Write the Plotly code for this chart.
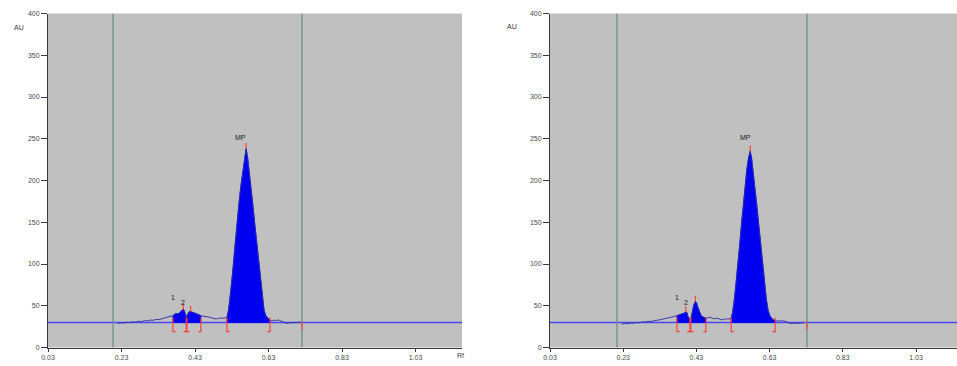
import plotly.graph_objects as go

# ---------------- data ----------------
# Densitogram traces (Rf, AU) for the two tracks
left_rf = [0.220, 0.228, 0.236, 0.244, 0.252, 0.260, 0.268, 0.276, 0.284, 0.292,
           0.300, 0.308, 0.316, 0.324, 0.332, 0.340, 0.348, 0.356, 0.364, 0.370,
           0.374, 0.378, 0.382, 0.386, 0.390, 0.394, 0.398, 0.401, 0.404, 0.406,
           0.408, 0.411, 0.414, 0.418, 0.422, 0.426, 0.430, 0.434, 0.438, 0.442,
           0.446, 0.452, 0.458, 0.464, 0.470, 0.476, 0.482, 0.488, 0.494, 0.500,
           0.506, 0.512, 0.517, 0.521, 0.525, 0.530, 0.535, 0.540, 0.545, 0.550,
           0.555, 0.560, 0.565, 0.569, 0.573, 0.578, 0.583, 0.588, 0.593, 0.598,
           0.603, 0.608, 0.613, 0.618, 0.623, 0.628, 0.634, 0.640, 0.646, 0.652,
           0.658, 0.664, 0.670, 0.676, 0.682, 0.688, 0.694, 0.700, 0.706, 0.712,
           0.718]
left_au = [29.0, 29.6, 29.2, 30.2, 29.8, 30.8, 30.4, 31.4, 31.0, 32.2,
           31.8, 32.8, 32.6, 33.6, 33.4, 34.8, 35.4, 36.6, 37.4, 38.0,
           39.6, 40.8, 40.2, 40.8, 42.4, 44.6, 45.8, 44.0, 38.5, 36.0,
           38.0, 41.5, 42.8, 43.0, 42.4, 42.0, 41.6, 41.0, 40.0, 39.0,
           38.0, 37.6, 37.0, 37.4, 36.2, 35.4, 34.6, 34.2, 34.8, 35.4,
           34.8, 35.6, 36.0, 44.0, 58.0, 78.0, 102.0, 128.0, 154.0, 174.0,
           194.0, 212.0, 228.0, 238.0, 228.0, 210.0, 190.0, 168.0, 146.0, 124.0,
           102.0, 80.0, 60.0, 44.0, 38.0, 35.0, 32.5, 32.0, 32.8, 32.2,
           33.0, 31.6, 30.4, 29.4, 29.0, 29.8, 29.2, 30.2, 29.6, 30.4,
           30.0]

right_rf = [0.226, 0.234, 0.242, 0.250, 0.258, 0.266, 0.274, 0.282, 0.290, 0.298,
            0.306, 0.314, 0.322, 0.330, 0.338, 0.346, 0.354, 0.362, 0.370, 0.377,
            0.381, 0.385, 0.389, 0.393, 0.397, 0.401, 0.404, 0.407, 0.412, 0.415,
            0.419, 0.423, 0.427, 0.430, 0.434, 0.438, 0.442, 0.446, 0.450, 0.456,
            0.462, 0.468, 0.474, 0.480, 0.486, 0.492, 0.498, 0.504, 0.510, 0.516,
            0.521, 0.525, 0.529, 0.533, 0.538, 0.543, 0.548, 0.553, 0.558, 0.563,
            0.568, 0.573, 0.577, 0.581, 0.586, 0.591, 0.596, 0.601, 0.606, 0.611,
            0.616, 0.621, 0.626, 0.631, 0.637, 0.645, 0.651, 0.657, 0.663, 0.669,
            0.675, 0.681, 0.687, 0.693, 0.699, 0.705, 0.711, 0.717, 0.723]
right_au = [28.0, 28.8, 28.4, 29.4, 29.0, 30.0, 29.6, 30.6, 30.4, 31.4,
            31.2, 32.2, 32.6, 33.2, 33.8, 34.6, 35.6, 36.4, 37.2, 38.0,
            38.6, 39.2, 39.6, 40.4, 41.2, 42.4, 41.8, 37.0, 33.0, 34.0,
            44.0, 51.0, 55.0, 54.0, 48.0, 43.0, 39.0, 37.0, 36.0, 35.0,
            35.6, 36.2, 35.0, 34.4, 35.2, 34.0, 33.2, 33.6, 34.4, 33.8,
            34.6, 35.0, 42.0, 54.0, 74.0, 98.0, 122.0, 148.0, 172.0, 194.0,
            214.0, 228.0, 235.0, 226.0, 208.0, 188.0, 166.0, 144.0, 122.0, 100.0,
            78.0, 58.0, 44.0, 38.0, 34.0, 32.0, 31.4, 32.2, 31.6, 32.0,
            30.6, 29.4, 28.6, 29.2, 28.6, 29.4, 28.8, 29.6, 29.2]

# Integrated peak windows (start / end Rf)
left_peak_start = [0.370, 0.408, 0.517]
left_peak_end = [0.406, 0.446, 0.634]
right_peak_start = [0.377, 0.415, 0.525]
right_peak_end = [0.412, 0.456, 0.645]

# Peak maxima
left_apex_rf = [0.398, 0.418, 0.569]
left_apex_au = [45.8, 43.0, 238.0]
right_apex_rf = [0.401, 0.427, 0.577]
right_apex_au = [42.4, 55.0, 235.0]

# Peak labels
peak_names = ["1", "2", "MP"]
left_label_rf = [0.370, 0.397, 0.555]
right_label_rf = [0.377, 0.402, 0.563]
label_au = [60, 54, 252]

# Application line and solvent front
left_marks = [0.207, 0.721]
right_marks = [0.213, 0.732]

baseline_au = 30.0
x_ticks = [0.03, 0.23, 0.43, 0.63, 0.83, 1.03]
y_ticks = [0, 50, 100, 150, 200, 250, 300, 350, 400]

# ---------------- figure ----------------
BLUE_FILL = "#0000f0"
TRACE = "#2a2aa8"
BASE = "#4848f0"
RED = "#ff3a2a"
MARK = "#6f8c8c"

fig = go.Figure()


def add_track(rf, au, starts, ends, apex_rf, apex_au, marks, xref, yref, xmax):
    # baseline across the whole track
    fig.add_trace(go.Scatter(x=[0.03, xmax], y=[baseline_au, baseline_au],
                             mode="lines", line=dict(color=BASE, width=1.5),
                             xaxis=xref, yaxis=yref, hoverinfo="skip"))
    # application line / solvent front
    for m in marks:
        fig.add_trace(go.Scatter(x=[m, m], y=[0, 400], mode="lines",
                                 line=dict(color=MARK, width=1.3),
                                 xaxis=xref, yaxis=yref, hoverinfo="skip"))
    # filled peak areas
    for s, e in zip(starts, ends):
        px = [x for x in rf if s <= x <= e]
        py = [y for x, y in zip(rf, au) if s <= x <= e]
        poly_x = px + [px[-1], px[0], px[0]]
        poly_y = py + [baseline_au, baseline_au, py[0]]
        fig.add_trace(go.Scatter(x=poly_x, y=poly_y, mode="lines",
                                 fill="toself", fillcolor=BLUE_FILL,
                                 line=dict(color=BLUE_FILL, width=0.8),
                                 xaxis=xref, yaxis=yref, hoverinfo="skip"))
    # scanned signal
    fig.add_trace(go.Scatter(x=rf, y=au, mode="lines",
                             line=dict(color=TRACE, width=0.9),
                             xaxis=xref, yaxis=yref, hoverinfo="skip"))
    # integration brackets
    bx, by = [], []
    foot = 0.007
    for s in starts:
        bx += [s + foot, s, s, None]
        by += [19, 19, 36, None]
    for e in ends:
        bx += [e - foot, e, e, None]
        by += [19, 19, 36, None]
    # solvent front marker
    bx += [marks[1], marks[1], None]
    by += [22, 31, None]
    # apex ticks
    for a, h in zip(apex_rf, apex_au):
        bx += [a, a, None]
        by += [h, h + 7, None]
    fig.add_trace(go.Scatter(x=bx, y=by, mode="lines",
                             line=dict(color=RED, width=1.1),
                             xaxis=xref, yaxis=yref, hoverinfo="skip"))


L_MAX = 1.1565
R_MAX = 1.142
add_track(left_rf, left_au, left_peak_start, left_peak_end,
          left_apex_rf, left_apex_au, left_marks, "x", "y", L_MAX)
add_track(right_rf, right_au, right_peak_start, right_peak_end,
          right_apex_rf, right_apex_au, right_marks, "x2", "y2", R_MAX)

tick_font = dict(family="Liberation Sans, Arial, sans-serif", size=7, color="#4a4a4a")
ax_common = dict(showgrid=False, zeroline=False, showline=True, linecolor="#3a3a3a",
                 linewidth=1, ticks="outside", tickcolor="#3a3a3a", tickfont=tick_font,
                 automargin=False)

y_dom = [18.5 / 366, 352.5 / 366]
fig.update_layout(
    width=957, height=366,
    margin=dict(l=0, r=0, t=0, b=0, pad=0, autoexpand=False),
    paper_bgcolor="white",
    plot_bgcolor="#c0c0c0",
    showlegend=False,
    xaxis=dict(domain=[48 / 957, 462 / 957], range=[0.03, L_MAX], anchor="y",
               tickvals=x_ticks, ticktext=[f"{v:.2f}" for v in x_ticks],
               ticklen=3, **ax_common),
    yaxis=dict(domain=y_dom, range=[0, 400], anchor="x", tickvals=y_ticks,
               ticklen=6, **ax_common),
    xaxis2=dict(domain=[550 / 957, 1.0], range=[0.03, R_MAX], anchor="y2",
                tickvals=x_ticks, ticktext=[f"{v:.2f}" for v in x_ticks],
                ticklen=3, **ax_common),
    yaxis2=dict(domain=y_dom, range=[0, 400], anchor="x2", tickvals=y_ticks,
                ticklen=6, **ax_common),
)

label_font = dict(family="Liberation Sans, Arial, sans-serif", size=7, color="#202020")
for name, lx, rx, h in zip(peak_names, left_label_rf, right_label_rf, label_au):
    fig.add_annotation(x=lx, y=h, xref="x", yref="y", text=name, showarrow=False,
                       font=label_font)
    fig.add_annotation(x=rx, y=h, xref="x2", yref="y2", text=name, showarrow=False,
                       font=label_font)

axis_font = dict(family="Liberation Sans, Arial, sans-serif", size=7, color="#3a3a3a")
fig.add_annotation(x=12 / 957, y=1 - 22 / 366, xref="paper", yref="paper", text="AU",
                   showarrow=False, font=axis_font)
fig.add_annotation(x=512 / 957, y=1 - 21 / 366, xref="paper", yref="paper", text="AU",
                   showarrow=False, font=axis_font)
fig.add_annotation(x=460 / 957, y=1 - 361 / 366, xref="paper", yref="paper", text="Rf",
                   showarrow=False, font=axis_font)

fig.write_html("out.html")
